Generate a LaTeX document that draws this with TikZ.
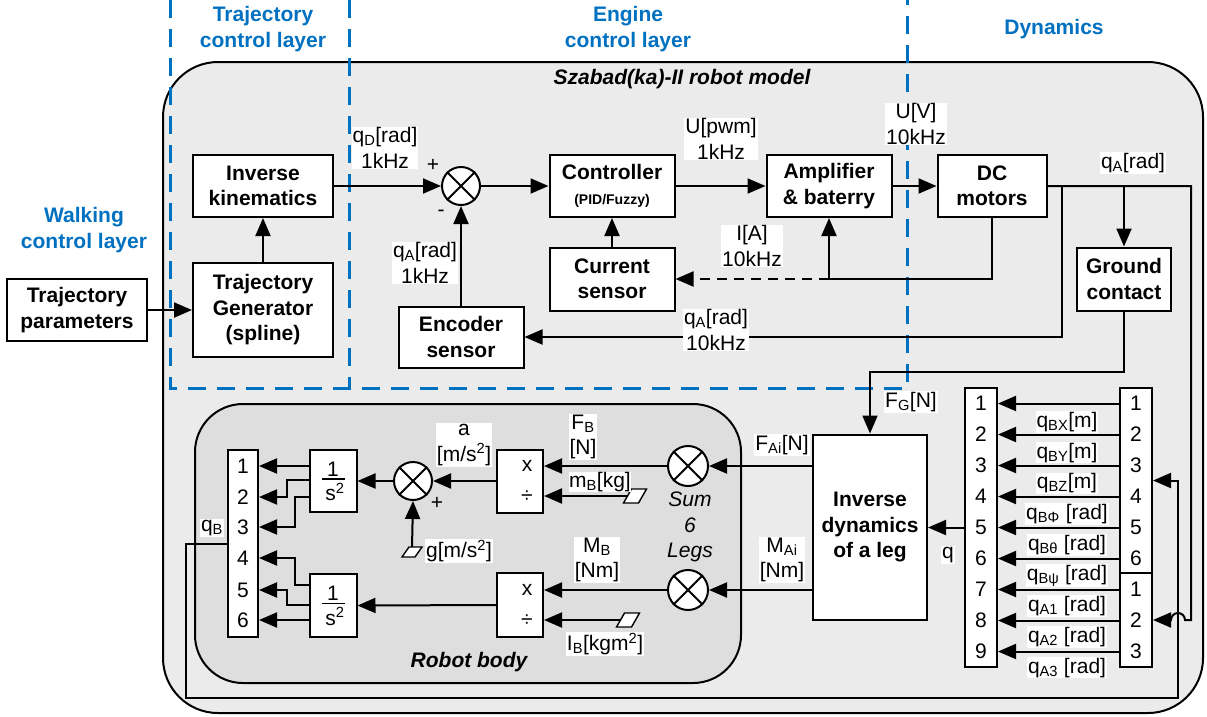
\documentclass[tikz,border=0pt]{standalone}
\usepackage{fontspec}
\setmainfont{Liberation Sans}
\usetikzlibrary{arrows.meta}
\definecolor{laycol}{RGB}{0,112,192}
\definecolor{outerfill}{RGB}{235,235,235}
\definecolor{bodyfill}{RGB}{222,222,222}
\newcommand\fsz{\fontsize{21}{25.5}\selectfont}
\newcommand\sbs[1]{\textsubscript{#1}}
\begin{document}
\begin{tikzpicture}[x=1pt,y=-1pt, line width=2pt,
 blk/.style={draw, fill=white, align=center, font=\fsz\bfseries, inner sep=0pt},
 lbl/.style={fill=white, align=center, font=\fsz, inner sep=1pt},
 num/.style={font=\fsz, inner sep=0pt},
 sumc/.style={draw, fill=white, circle, minimum size=38, inner sep=0pt},
 arr/.style={-{Triangle[length=18pt,width=15pt]}},
 laydash/.style={draw=laycol, line width=3pt, dash pattern=on 18pt off 11pt},
 laytxt/.style={text=laycol, font=\fsz\bfseries, align=center},
 constpar/.style={draw, fill=white, line width=1.4pt}
]
\path[use as bounding box] (0,0) rectangle (1207,716);

% outer model box
\draw[fill=outerfill, rounded corners=55] (163,62) rectangle (1203,713);
\node[font=\fsz\bfseries\itshape] (title) at (682,79) {Szabad(ka)-II robot model};

% layer separators
\draw[laydash] (170,0) -- (170,388) -- (907,388) -- (907,0);
\draw[laydash] (349,0) -- (349,388);
\node[laytxt] (l1) at (263,29) {Trajectory\\control layer};
\node[laytxt] (l2) at (628,29) {Engine\\control layer};
\node[laytxt] (l3) at (1054,29) {Dynamics};
\node[laytxt] (l4) at (84,230) {Walking\\control layer};

% robot body
\draw[fill=bodyfill, rounded corners=48] (195,404) rectangle (741,683);
\node[font=\fsz\bfseries\itshape] (rbt) at (469,662) {Robot body};

% control blocks
\node[blk, minimum width=140, minimum height=62] (tp) at (77,310) {Trajectory\\parameters};
\node[blk, minimum width=140, minimum height=94] (tg) at (263,310) {Trajectory\\Generator\\(spline)};
\node[blk, minimum width=140, minimum height=62] (ik) at (263,186) {Inverse\\kinematics};
\node[sumc] (s1) at (461,186) {};
\node[blk, minimum width=125, minimum height=62] (ctrl) at (612,186) {Controller\\{\fontsize{14}{16}\selectfont(PID/Fuzzy)}};
\node[blk, minimum width=125, minimum height=62] (amp) at (829,186) {Amplifier\\\& baterry};
\node[blk, minimum width=109, minimum height=62] (dc) at (992,186) {DC\\motors};
\node[blk, minimum width=125, minimum height=63] (cs) at (612,279) {Current\\sensor};
\node[blk, minimum width=125, minimum height=61] (enc) at (461,337) {Encoder\\sensor};
\node[blk, minimum width=94, minimum height=63] (gc) at (1124,279) {Ground\\contact};
\node[blk, minimum width=114, minimum height=185] (invd) at (870,527) {Inverse\\dynamics\\of a leg};

% robot body blocks
\node[sumc, minimum size=40] (s6a) at (688,466) {};
\node[sumc, minimum size=40] (s6b) at (688,590) {};
\node[align=center, font=\fsz\itshape] (sumtxt) at (690,527) {Sum\\6\\Legs};
\node[blk, minimum width=46, minimum height=63] (m1) at (520,481) {};
\node[num] (m1x) at (527,466) {x};
\node[num] (m1d) at (527,497) {÷};
\node[blk, minimum width=46, minimum height=64] (m2) at (520,605) {};
\node[num] (m2x) at (527,590) {x};
\node[num] (m2d) at (527,621) {÷};
\node[sumc] (s3) at (413,481) {};
\node[blk, minimum width=47, minimum height=62] (i1) at (333,481) {};
\node[num] (i1n) at (333,469) {1};
\draw[line width=1.3pt] (322,479) -- (345,479);
\node[num] (i1s) at (335,492) {s\textsuperscript{2}};
\node[blk, minimum width=47, minimum height=63] (i2) at (333,605.5) {};
\node[num] (i2n) at (333,593) {1};
\draw[line width=1.3pt] (322,603.5) -- (345,603.5);
\node[num] (i2s) at (335,616.5) {s\textsuperscript{2}};

% constant inputs (parallelograms)
\draw[constpar] (623.5,503) -- ++(15,0) -- ++(8,-14) -- ++(-15,0) -- cycle;
\coordinate (pm) at (627.5,496);
\draw[constpar] (616.5,627) -- ++(15,0) -- ++(8,-14) -- ++(-15,0) -- cycle;
\coordinate (pI) at (620.5,620);
\draw[constpar] (402,557) -- ++(13,0) -- ++(7,-10) -- ++(-13,0) -- cycle;
\coordinate (pg) at (412,547);

% multiplexers
\node[blk, minimum width=30, minimum height=187] (muxL) at (243,543.5) {};
\foreach \k/\y in {1/466,2/497,3/527,4/558,5/590,6/620}
  \node[num] (mL\k) at (243,\y) {\k};
\node[blk, minimum width=32, minimum height=279] (mR) at (981,527.5) {};
\foreach \k in {1,...,9}
  \node[num] (mR\k) at (981,{403.5+31*(\k-1)}) {\k};
\node[blk, minimum width=32, minimum height=185] (dA) at (1136,480.5) {};
\foreach \k in {1,...,6}
  \node[num] (dA\k) at (1136,{403.5+31*(\k-1)}) {\k};
\node[blk, minimum width=32, minimum height=94] (dB) at (1136,620) {};
\foreach \k in {1,2,3}
  \node[num] (dB\k) at (1136,{589.5+31*(\k-1)}) {\k};

% sum crosses
\foreach \n in {s1,s3,s6a,s6b}
  \draw (\n.45) -- (\n.225) (\n.135) -- (\n.315);

% connectors, control part
\draw[arr] (tp.east) -- (tg.west);
\draw[arr] (tg.north) -- (ik.south);
\draw[arr] (ik.east) -- (s1.west);
\draw[arr] (s1.east) -- (ctrl.west);
\draw[arr] (ctrl.east) -- (amp.west);
\draw[arr] (amp.east) -- (dc.west);
\draw[arr] (cs.north) -- (ctrl.south);
\draw[arr] (enc.north) -- (s1.south);
\coordinate (j1) at (829,279);
\draw (dc.south) |- (j1);
\draw[arr] (j1) -- (amp.south);
\draw[arr, dash pattern=on 10pt off 7pt] (j1) -- (cs.east);
\coordinate (cA) at (1062,186);
\coordinate (cB) at (1124,186);
\coordinate (cC) at (1191,186);
\draw[arr] (dc.east) -- (cC) -- (cC |- dB.east) -- ++(-6,0) arc[start angle=0, end angle=-180, radius=7] -- (dB.east);
\draw[arr] (cA) |- (enc.east);
\draw[arr] (cB) -- (gc.north);
\coordinate (gcT) at (1124,372);
\draw[arr] (gc.south) -- (gcT) -| (invd.north);

% connectors, dynamics part
\draw[arr] (s6a.east -| invd.west) -- (s6a.east);
\draw[arr] (s6b.east -| invd.west) -- (s6b.east);
\draw[arr] (s6a.west) -- (s6a.west -| m1.east);
\draw[arr] (s6b.west) -- (s6b.west -| m2.east);
\draw[arr] (pm) -- (pm -| m1.east);
\draw[arr] (pI) -- (pI -| m2.east);
\draw[arr] (m1.west) -- (s3.east);
\draw[arr] (pg) -- (s3.south);
\draw[arr] (s3.west) -- (i1.east);
\draw[arr] (m2.west) -- (i2.east);
\draw[arr] (i1.west |- mL1) -- (mL1 -| muxL.east);
\draw[arr] (310,480) -- (287,480) |- (mL2 -| muxL.east);
\draw[arr] (310,497) -- (295,497) |- (mL3 -| muxL.east);
\draw[arr] (310,585) -- (295,585) |- (mL4 -| muxL.east);
\draw[arr] (310,605) -- (287,605) |- (mL5 -| muxL.east);
\draw[arr] (i2.west |- mL6) -- (mL6 -| muxL.east);
\foreach \k in {1,...,9}
  \draw[arr] (mR\k -| dA.west) -- (mR\k -| mR.east);
\draw[arr] (mR5 -| mR.west) -- (mR5 -| invd.east);
\draw[arr] (muxL.west) -- (186,543.5) -- (186,698) -- (1178,698) -- (1178,480.5) -- (dA.east);

% labels
\node[lbl] (lqd) at (385,148) {q\sbs{D}[rad]\\1kHz};
\node[num] (lplus) at (433,165) {+};
\node[num] (lminus) at (441,213) {-};
\node[lbl] (lqa1) at (425,263) {q\sbs{A}[rad]\\1kHz};
\node[lbl] (lupwm) at (721,139) {U[pwm]\\1kHz};
\node[lbl] (luv) at (916,124) {U[V]\\10kHz};
\node[lbl] (lia) at (752,246) {I[A]\\10kHz};
\node[lbl] (lqa10) at (716,330) {q\sbs{A}[rad]\\10kHz};
\node[lbl] (lqa) at (1133,163) {q\sbs{A}[rad]};
\node[lbl] (lfg) at (911,402) {F\sbs{G}[N]};
\node[lbl] (lfai) at (782,445) {F\sbs{Ai}[N]};
\node[lbl] (lmai) at (782,560) {M\sbs{Ai}\\{[}Nm{]}};
\node[lbl] (lfb) at (583,437) {F\sbs{B}\\{[}N{]}};
\node[lbl, inner sep=0pt] (lmb) at (600,482) {m\sbs{B}[kg]};
\node[lbl] (lmbb) at (597,560) {M\sbs{B}\\{[}Nm{]}};
\node[lbl] (lib) at (605,644) {I\sbs{B}[kgm\textsuperscript{2}]};
\node[lbl] (la) at (464,445) {a\\{[}m/s\textsuperscript{2}{]}};
\node[lbl] (lg) at (459,551) {g[m/s\textsuperscript{2}]};
\node[num] (lplus2) at (437,503) {+};
\node[lbl] (lqb) at (212,528) {q\sbs{B}};
\node[lbl] (lq) at (948,555) {q};
\foreach \t [count=\i] in {q\sbs{BX}[m], q\sbs{BY}[m], q\sbs{BZ}[m], q\sbs{BΦ} [rad], q\sbs{Bθ} [rad], q\sbs{Bψ} [rad], q\sbs{A1} [rad], q\sbs{A2} [rad], q\sbs{A3} [rad]}
  \node[lbl] (lq\i) at (1067,{422+30.7*(\i-1)}) {\t};
\end{tikzpicture}
\end{document}
